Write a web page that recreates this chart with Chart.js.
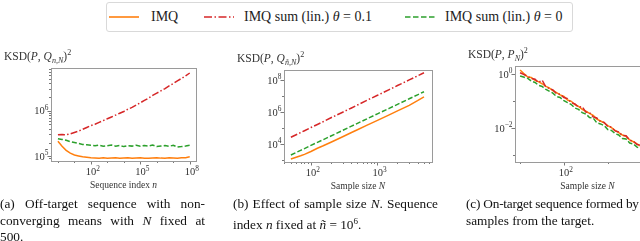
<!DOCTYPE html>
<html>
<head>
<meta charset="utf-8">
<script src="https://cdn.jsdelivr.net/npm/chart.js@4.4.0/dist/chart.umd.min.js"></script>
<style>
  body { margin: 0; width: 640px; height: 241px; overflow: hidden; background: #fff; position: relative; font-family: "Liberation Serif", serif; color: #222; }
  .legend { position: absolute; left: 106px; top: 2px; width: 467px; height: 30px; border: 1px solid #d9d9d9; border-radius: 3px; box-sizing: border-box; }
  .legend svg { position: absolute; top: 12px; }
  .legend span { position: absolute; top: 0; line-height: 28px; font-size: 14px; white-space: nowrap; }
  canvas { position: absolute; }
  .cap { position: absolute; top: 196px; width: 205px; font-size: 13.3px; line-height: 16.7px; color: #111; }
  .cap div { white-space: nowrap; }
  .cap .j { text-align: justify; text-align-last: justify; white-space: normal; }
</style>
</head>
<body>

<div class="legend">
  <svg style="left:2px" width="30" height="4"><line x1="0" y1="2" x2="30" y2="2" stroke="#ff7f0e" stroke-width="1.6"/></svg>
  <span style="left:44px">IMQ</span>
  <svg style="left:97px" width="30" height="4"><line x1="0" y1="2" x2="30" y2="2" stroke="#d62728" stroke-width="1.6" stroke-dasharray="8 2.5 1.5 2.5"/></svg>
  <span style="left:137px">IMQ sum (lin.) <i>θ</i> = 0.1</span>
  <svg style="left:298px" width="30" height="4"><line x1="0" y1="2" x2="30" y2="2" stroke="#2ca02c" stroke-width="1.6" stroke-dasharray="5.5 2.5"/></svg>
  <span style="left:338px">IMQ sum (lin.) <i>θ</i> = 0</span>
</div>

<canvas id="chartA" width="215" height="160" style="left:0px;top:40px"></canvas>
<canvas id="chartB" width="215" height="160" style="left:230px;top:40px"></canvas>
<canvas id="chartC" width="220" height="160" style="left:462px;top:40px"></canvas>

<div class="cap" style="left:0px">
  <div class="j">(a) Off-target sequence with non-</div>
  <div class="j">converging means with <i>N</i> fixed at</div>
  <div>500.</div>
</div>
<div class="cap" style="left:233px">
  <div class="j">(b) Effect of sample size <i>N</i>. Sequence</div>
  <div>index <i>n</i> fixed at <i>ñ</i> = 10<sup style="font-size:9px">6</sup>.</div>
</div>
<div class="cap" style="left:466px">
  <div style="letter-spacing:-0.2px">(c) On-target sequence formed by</div>
  <div>samples from the target.</div>
</div>

<script>
// (a) off-target sequence, N = 500
var seqIndexA = [1, 1.78, 3.16, 5.62, 10, 17.8, 31.6, 56.2, 100, 178, 316, 562, 1e3, 1.78e3, 3.16e3, 5.62e3,
  1e4, 1.78e4, 3.16e4, 5.62e4, 1e5, 1.78e5, 3.16e5, 5.62e5, 1e6, 1.78e6, 3.16e6, 5.62e6, 1e7, 1.78e7, 3.16e7, 5.62e7, 1e8];
var imqA = [214000, 166000, 135000, 117000, 107000, 102000, 97700, 95500, 93300, 92300, 91200, 92800, 90500,
  91800, 93000, 90800, 91500, 92600, 90300, 91900, 92900, 91000, 90600, 92200, 93400, 91300, 90700, 92500,
  91600, 90900, 92700, 93600, 97700];
var sum01A = [295000, 298000, 295000, 309000, 331000, 355000, 389000, 427000, 468000, 501000, 550000, 603000,
  661000, 724000, 794000, 871000, 955000, 1.07e6, 1.17e6, 1.32e6, 1.48e6, 1.66e6, 1.86e6, 2.14e6, 2.40e6,
  2.69e6, 3.02e6, 3.47e6, 3.89e6, 4.47e6, 5.01e6, 5.75e6, 6.61e6];
var sum0A = [243000, 234000, 224000, 209000, 200000, 191000, 182000, 178000, 174000, 170000, 175000, 166000,
  171000, 176000, 167000, 172000, 163000, 171000, 167000, 175000, 166000, 172000, 168000, 176000, 163000,
  168000, 172000, 166000, 174000, 159000, 163000, 168000, 174000];

// (b) sample size N, n fixed at 1e6
var sampleSizeB = [50, 60, 70, 80, 100, 125, 150, 200, 300, 400, 500, 700, 1000, 1500, 2000, 3000, 4000, 5000];
var imqB = [1170, 1510, 1860, 2290, 3470, 5500, 7590, 13200, 28800, 51300, 79400, 155000, 309000, 676000,
  1.2e6, 2.69e6, 5.25e6, 9.12e6];
var sum01B = [26900, 38900, 52500, 69200, 110000, 170000, 245000, 447000, 1.0e6, 1.78e6, 2.82e6, 5.62e6,
  1.15e7, 2.57e7, 4.68e7, 1.05e8, 1.86e8, 2.95e8];
var sum0B = [2090, 3020, 4070, 5250, 8320, 12900, 18200, 32400, 72400, 129000, 200000, 389000, 794000,
  1.74e6, 3.09e6, 6.92e6, 1.23e7, 1.91e7];

// (c) on-target samples
var sampleSizeC = [10, 12, 15, 18, 22, 26, 32, 38, 46, 56, 68, 82, 100, 121, 147, 178, 215, 261, 316, 383,
  464, 562, 681, 825, 1000, 1212, 1468, 1778, 2154, 2610, 3162, 3831, 4642, 5623, 6813, 8254, 10000];
var imqC = [1.445, 1.096, 0.794, 0.759, 0.603, 0.537, 0.447, 0.363, 0.316, 0.251, 0.209, 0.174, 0.151, 0.112,
  0.1, 0.0759, 0.0646, 0.0501, 0.0427, 0.0355, 0.0302, 0.0219, 0.0186, 0.0158, 0.0126, 0.0105, 0.00832,
  0.00692, 0.00562, 0.00501, 0.00372, 0.00316, 0.00263, 0.00219, 0.00174, 0.00141, 0.0012];
var sum01C = [1.148, 1.0, 0.832, 0.708, 0.661, 0.501, 0.603, 0.355, 0.302, 0.263, 0.191, 0.182, 0.138, 0.126,
  0.0891, 0.0794, 0.0603, 0.0631, 0.0398, 0.038, 0.0263, 0.024, 0.0178, 0.0166, 0.0117, 0.011, 0.00794,
  0.00724, 0.00537, 0.00525, 0.00355, 0.00331, 0.00251, 0.00234, 0.00166, 0.00151, 0.00112];
var sum0C = [0.87, 0.794, 0.708, 0.562, 0.501, 0.398, 0.355, 0.282, 0.24, 0.2, 0.151, 0.138, 0.105, 0.0891,
  0.0759, 0.0562, 0.0501, 0.038, 0.0339, 0.0251, 0.024, 0.0158, 0.0145, 0.0126, 0.00891, 0.00832, 0.00631,
  0.00562, 0.00417, 0.00398, 0.00282, 0.00263, 0.002, 0.00182, 0.00138, 0.0012, 0.000891];

// tick values (labelled / unlabelled)
var xMajorA = [1e2, 1e5, 1e8], xMinorA = [1, 10, 1e3, 1e4, 1e6, 1e7];
var yMajorA = [1e5, 1e6], yMinorA = [8e4, 9e4, 2e5, 3e5, 4e5, 5e5, 6e5, 7e5, 8e5, 9e5, 2e6, 3e6, 4e6, 5e6, 6e6, 7e6, 8e6];
var xMajorB = [1e2, 1e3], xMinorB = [40, 50, 60, 70, 80, 90, 200, 300, 400, 500, 600, 700, 800, 900, 2000, 3000, 4000, 5000, 6000];
var yMajorB = [1e4, 1e6, 1e8], yMinorB = [1e3, 1e5, 1e7];
var xMajorC = [1e2, 1e4], xMinorC = [10, 1e3];
var yMajorC = [1, 1e-2], yMinorC = [1e-1, 1e-3];

var FONT = '"Liberation Serif", "DejaVu Serif", serif';

function richText(ctx, parts, x, y, size, align) {
  function fontFor(k) {
    var small = k.indexOf('sub') >= 0 || k.indexOf('sup') >= 0;
    return (k.charAt(0) === 'i' ? 'italic ' : '') + (small ? size * 0.7 : size) + 'px ' + FONT;
  }
  var w = 0;
  parts.forEach(function (p) { ctx.font = fontFor(p[1]); w += ctx.measureText(p[0]).width; });
  var cx = align === 'right' ? x - w : align === 'center' ? x - w / 2 : x;
  parts.forEach(function (p) {
    ctx.font = fontFor(p[1]);
    var dy = p[1].indexOf('sub') >= 0 ? size * 0.28 : p[1].indexOf('sup') >= 0 ? -size * 0.42 : 0;
    ctx.fillText(p[0], cx, y + dy);
    cx += ctx.measureText(p[0]).width;
  });
}

function expLabel(v) {
  var e = Math.round(Math.log10(v));
  return [['10', ''], [String(e).replace('-', '\u2212'), 'sup']];
}

function axesPlugin(cfg) {
  return {
    id: 'axesDeco',
    afterDraw: function (chart) {
      var ctx = chart.ctx, a = chart.chartArea, xs = chart.scales.x, ys = chart.scales.y;
      ctx.save();
      ctx.strokeStyle = '#555';
      ctx.lineWidth = 0.8;
      function tick(x1, y1, x2, y2) { ctx.beginPath(); ctx.moveTo(x1, y1); ctx.lineTo(x2, y2); ctx.stroke(); }
      cfg.xMajor.concat(cfg.xMinor).forEach(function (v, i) {
        var px = Math.round(xs.getPixelForValue(v)) + 0.5;
        if (px < a.left || px > a.right) return;
        tick(px, a.bottom, px, a.bottom + (i < cfg.xMajor.length ? 3.5 : 2));
      });
      cfg.yMajor.concat(cfg.yMinor).forEach(function (v, i) {
        var py = Math.round(ys.getPixelForValue(v)) + 0.5;
        if (py < a.top || py > a.bottom) return;
        tick(a.left, py, a.left - (i < cfg.yMajor.length ? 3.5 : 2), py);
      });
      ctx.strokeStyle = '#9a9a9a';
      ctx.lineWidth = 1;
      ctx.strokeRect(a.left + 0.5, a.top + 0.5, a.right - a.left, a.bottom - a.top);

      ctx.fillStyle = '#333';
      ctx.textBaseline = 'alphabetic';
      cfg.xMajor.forEach(function (v) {
        var px = xs.getPixelForValue(v);
        if (px < a.left || px > a.right) return;
        richText(ctx, expLabel(v), px + 2, a.bottom + 14, 10.5, 'center');
      });
      cfg.yMajor.forEach(function (v) {
        var py = ys.getPixelForValue(v);
        if (py < a.top || py > a.bottom) return;
        richText(ctx, expLabel(v), a.left - 2.5, py + 3.5, 10.5, 'right');
      });
      richText(ctx, cfg.xTitle, (a.left + a.right) / 2, a.bottom + 27, 9.5, 'center');
      richText(ctx, cfg.yTitle, a.left - 47, a.top - 8, 11.5, 'left');
      ctx.restore();
    }
  };
}

function pts(xs, ys) {
  return xs.map(function (x, i) { return { x: x, y: ys[i] }; });
}

function makeChart(id, cfg) {
  var ctx = document.getElementById(id).getContext('2d');
  return new Chart(ctx, {
    type: 'line',
    data: {
      datasets: [
        { label: 'IMQ', data: pts(cfg.x, cfg.imq), borderColor: '#ff7f0e', borderWidth: 1.5, order: 3 },
        { label: 'IMQ sum (lin.) θ = 0.1', data: pts(cfg.x, cfg.sum01), borderColor: '#d62728', borderWidth: 1.5,
          borderDash: [7, 2.2, 1.5, 2.2], order: 2 },
        { label: 'IMQ sum (lin.) θ = 0', data: pts(cfg.x, cfg.sum0), borderColor: '#2ca02c', borderWidth: 1.5,
          borderDash: [5, 2.2], order: 1 }
      ]
    },
    options: {
      responsive: false,
      animation: false,
      devicePixelRatio: 1,
      elements: { point: { radius: 0 }, line: { tension: 0, fill: false } },
      layout: { padding: { left: 0, top: cfg.padTop, right: cfg.padRight, bottom: 0 } },
      plugins: { legend: { display: false }, tooltip: { enabled: false } },
      scales: {
        x: {
          type: 'logarithmic', min: cfg.xMin, max: cfg.xMax,
          grid: { display: false }, border: { display: false }, ticks: { display: false },
          afterFit: function (s) { s.height = cfg.xAxisH; }
        },
        y: {
          type: 'logarithmic', min: cfg.yMin, max: cfg.yMax,
          grid: { display: false }, border: { display: false }, ticks: { display: false },
          afterFit: function (s) { s.width = cfg.yAxisW; }
        }
      }
    },
    plugins: [axesPlugin(cfg)]
  });
}

makeChart('chartA', {
  x: seqIndexA, imq: imqA, sum01: sum01A, sum0: sum0A,
  xMin: 0.38, xMax: 2.4e8, yMin: 7.9e4, yMax: 8.5e6,
  yAxisW: 51, padTop: 28, padRight: 19, xAxisH: 39,
  xMajor: xMajorA, xMinor: xMinorA, yMajor: yMajorA, yMinor: yMinorA,
  xTitle: [['Sequence index ', ''], ['n', 'i']],
  yTitle: [['KSD(', ''], ['P', 'i'], [', ', ''], ['Q', 'i'], ['n,N', 'isub'], [')', ''], ['2', 'sup']]
});

makeChart('chartB', {
  x: sampleSizeB, imq: imqB, sum01: sum01B, sum0: sum0B,
  xMin: 39.4, xMax: 6600, yMin: 760, yMax: 4.4e8,
  yAxisW: 54, padTop: 30, padRight: 13, xAxisH: 38,
  xMajor: xMajorB, xMinor: xMinorB, yMajor: yMajorB, yMinor: yMinorB,
  xTitle: [['Sample size ', ''], ['N', 'i']],
  yTitle: [['KSD(', ''], ['P', 'i'], [', ', ''], ['Q', 'i'], ['ñ,N', 'isub'], [')', ''], ['2', 'sup']]
});

makeChart('chartC', {
  x: sampleSizeC, imq: imqC, sum01: sum01C, sum0: sum0C,
  xMin: 7.66, xMax: 15500, yMin: 5.6e-4, yMax: 2.04,
  yAxisW: 53, padTop: 26, padRight: 22, xAxisH: 38,
  xMajor: xMajorC, xMinor: xMinorC, yMajor: yMajorC, yMinor: yMinorC,
  xTitle: [['Sample size ', ''], ['N', 'i']],
  yTitle: [['KSD(', ''], ['P', 'i'], [', ', ''], ['P', 'i'], ['N', 'isub'], [')', ''], ['2', 'sup']]
});
</script>
</body>
</html>
